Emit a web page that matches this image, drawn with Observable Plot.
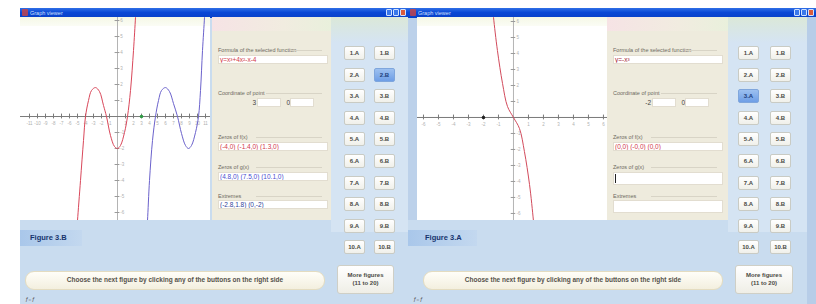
<!DOCTYPE html>
<html><head><meta charset="utf-8">
<script src="https://cdn.jsdelivr.net/npm/d3@7"></script>
<script src="https://cdn.jsdelivr.net/npm/@observablehq/plot@0.6"></script>
<style>
body{margin:0;width:816px;height:304px;overflow:hidden;background:#fff;font-family:"Liberation Sans","DejaVu Sans",sans-serif;position:relative}
.a{position:absolute;box-sizing:border-box}
.title{background:linear-gradient(#2f6fe6,#0a48d6 45%,#0840c8);}
.lbl{font-size:5.5px;color:#6d6a60;white-space:nowrap;line-height:6px}
.fld{background:#fff;border:1px solid #e2ddd0;font-size:6.5px;line-height:7px;white-space:nowrap;padding-left:1px;overflow:hidden}
.btn{background:linear-gradient(#fff,#f0f0ea);border:1px solid #c9cbc4;border-radius:2px;font-size:6px;font-weight:bold;color:#4a4a44;text-align:center;line-height:12px}
.btn.on{background:linear-gradient(#9cc0f0,#6e9ee6);border-color:#7fa6dc;color:#1d3e7a}
.pill{background:linear-gradient(#fffef8,#f3efdf);border:1.5px solid #e4dcc0;border-radius:9px;font-size:6.5px;font-weight:bold;color:#55524a;text-align:center;white-space:nowrap}
.more{background:linear-gradient(#fff,#efeee6);border:1px solid #cfcfc6;border-radius:3px;font-size:6px;font-weight:bold;color:#4a4a44;text-align:center;line-height:8px;padding-top:5px}
</style></head><body>
<script>
// ---------- data ----------
const leftRed = [[-5.1,-7.2],[-5,-6.5],[-4.625,-4],[-4.25,-1.5],[-4,0],[-3.625,1],[-3.25,1.625],[-2.75,1.81],[-2.25,1.56],[-1.75,0.69],[-1.375,0],[-0.875,-1.19],[-0.375,-1.875],[0,-2],[0.375,-1.81],[0.875,-1],[1.25,0],[1.625,1.625],[2,4.125],[2.25,6.19],[2.35,7]];
const leftBlue = [[3.65,-7.2],[3.75,-6.5],[4,-4],[4.375,-1.5],[4.75,0],[5.125,1],[5.5,1.625],[6,1.81],[6.5,1.56],[7,0.81],[7.5,0],[8,-1.06],[8.5,-1.81],[8.875,-2],[9.25,-1.81],[9.75,-1],[10.125,0],[10.375,1.625],[10.625,4.125],[10.875,6.19],[10.95,7]];
const rightRed = [[-1.4,7],[-1.33,6.25],[-1.07,4.19],[-0.73,2.13],[-0.4,0.69],[0,0],[0.4,-0.69],[0.73,-2.13],[1.07,-4.19],[1.33,-6.44],[1.4,-7.2]];
const leftPoint = [[3,0]];
const rightPoint = [[-2,0]];
const xTicksLeft = [-11,-10,-9,-8,-7,-6,-5,-4,-3,-2,-1,1,2,3,4,5,6,7,8,9,10,11];
const xTicksRight = [-6,-5,-4,-3,-2,-1,1,2,3,4,5,6];
const yTicks = [-6,-5,-4,-3,-2,-1,1,2,3,4,5,6];
const rowLabels = ["1","2","3","4","5","6","7","8","9","10"];
const figTitles = ["Figure 3.B","Figure 3.A"];
const winTitles = ["Graph viewer","Graph viewer"];
const activeBtn = ["2.B","3.A"];
const pillText = "Choose the next figure by clicking any of the buttons on the right side";
const moreText = ["More figures","(11 to 20)"];
const formLabels = ["Formula of the selected function","Coordinate of point","Zeros of f(x)","Zeros of g(x)","Extremes"];
const formValuesLeft = ["y=x³+4x²-x-4","(-4,0) (-1.4,0) (1.3,0)","(4.8,0) (7.5,0) (10.1,0)","(-2.8,1.8) (0,-2)"];
const formValuesRight = ["y=-x³","(0,0) (-0,0) (0,0)","",""];
const pointLeft = ["3","0"], pointRight = ["-2","0"];

// ---------- helpers ----------
function el(cls, x, y, w, h, css, txt){
  const d=document.createElement("div"); d.className="a "+(cls||"");
  d.style.left=x+"px"; d.style.top=y+"px"; if(w!=null) d.style.width=w+"px"; if(h!=null) d.style.height=h+"px";
  if(css) d.style.cssText+=css; if(txt!=null) d.innerHTML=txt;
  document.body.appendChild(d); return d;
}
function graph(o){
  return Plot.plot({
    width:o.w, height:o.h, margin:0,
    x:{domain:o.xd, axis:null}, y:{domain:o.yd, axis:null},
    style:{background:"transparent", fontFamily:"Liberation Sans", fontSize:"4.5px", overflow:"hidden"},
    marks:[
      Plot.ruleX([0],{stroke:"#b4b4b4",strokeWidth:1}),
      Plot.ruleY([0],{stroke:"#7a7a7a",strokeWidth:1}),
      Plot.ruleX(o.xt,{x:d=>d, y1:-o.tx, y2:o.tx, stroke:"#7a7a7a"}),
      Plot.ruleY(yTicks,{y:d=>d, x1:-o.ty, x2:o.ty, stroke:"#9a9a9a"}),
      Plot.text(o.xt,{x:d=>d, y:-0.45, text:d=>String(d), fill:"#b0b0b0"}),
      Plot.text(yTicks,{x:o.lx, y:d=>d, text:d=>String(d), fill:"#b0b0b0", textAnchor:"start"}),
      ...o.series.map(s=>Plot.line(s.data,{x:d=>d[0], y:d=>d[1], stroke:s.color, strokeWidth:1, curve:"catmull-rom", clip:true})),
      Plot.dot(o.pt,{x:d=>d[0], y:d=>d[1], r:1.8, fill:o.ptColor, stroke:"none"})
    ]
  });
}

function windowFrame(i, x0, x1, plotX, formX, formW, btnX, btnColA, btnColB, stripL){
  const bw=x1-x0;
  // body background
  el("",x0,17,bw,287,"background:#c9dcef");
  if(stripL) el("",x0,17,plotX-x0,203,"background:#bcd1ea");
  // title bar
  el("title",x0,8,bw,10);
  el("",x0+2,9,6,7,"background:#c44;border-radius:1px;opacity:.8");
  el("",x0+10,9,60,8,"font-size:5.5px;color:#cfe0ff;line-height:8px;white-space:nowrap",winTitles[i]);
  [0,1,2].forEach(k=>el("",x1-22+k*7,9,6,7,"background:"+(k==2?"#d95b3c":"#3a78ea")+";border:1px solid #cfe0ff;border-radius:1px"));
  // plot background
  el("",plotX,17,190,203,"background:#fff");
  el("",plotX,17,190,9,"background:linear-gradient(#f5f8e6,#fbfcf5)");
  // form panel
  el("",formX,17,formW,203,"background:#eeebdd");
  el("",formX,17,formW,14,"background:linear-gradient(90deg,#f6e3e5,#f1ece0 60%,#e9f0dc)");
  // buttons panel
  el("",btnX,17,x1-btnX,215,"background:linear-gradient(#dbe8d8,#d5e4f3 12%)");
}

function form(fx, vals, pt, colors, emptyCursor){
  const L=fx+6, W=110;
  const ly=[47,90,134,164,193], fy=[55,98,142,172,200];
  ly.forEach((y,k)=>{
    el("lbl",L,y,null,null,"",formLabels[k]);
    el("",L+ (k==0?72:k==1?48:38),y+3,W-(k==0?72:k==1?48:38)-6,1,"background:#d8d4c6");
  });
  el("fld",L,fy[0],W,9,"color:"+colors[0],vals[0]);
  el("",L+30,fy[1],8,9,"font-size:6.5px;color:#444;line-height:9px;text-align:right",pt[0]);
  el("fld",L+39,fy[1],24,9,"");
  el("",L+64,fy[1],8,9,"font-size:6.5px;color:#444;line-height:9px;text-align:right",pt[1]);
  el("fld",L+72,fy[1],24,9,"");
  [2,3,4].forEach((k,j)=>{
    const f=el("fld",L,fy[k],W,(emptyCursor&&j>0)?13:9,"color:"+colors[j+1],vals[j+1]);
    if(emptyCursor&&j==1){ el("",L+2,fy[k]+2,1,9,"background:#222"); }
  });
}

function buttons(i, ax, bx){
  rowLabels.forEach((r,k)=>{
    const cy=53+k*21.6;
    ["A","B"].forEach((c,j)=>{
      const lab=r+"."+c;
      el("btn"+(activeBtn[i]==lab?" on":""),j?bx:ax,Math.round(cy-7),21,14,"",lab);
    });
  });
}

function bottom(i, x0, figX, pillX, moreX, moreW){
  el("",x0,230,figX-x0+52,16,"background:linear-gradient(90deg,#a9c7ea,#c3d8ef)");
  el("",figX,233,60,10,"font-size:7.5px;font-weight:bold;color:#17346e;line-height:10px;white-space:nowrap",figTitles[i]);
  el("pill",pillX,271,300,19,"line-height:16px",pillText);
  el("more",moreX,265,moreW,29,"",moreText[0]+"<br>"+moreText[1]);
  el("",x0+5,295,26,8,"font-size:6px;color:#555;line-height:8px;font-style:italic;white-space:nowrap","ƒ₌ƒ");
}

// ---------- windows ----------
windowFrame(0,20,408,20,212,119,331,345,375,false);
windowFrame(1,408,816,417,607,121,728,740,772,true);
el("",807,17,9,287,"background:#b7cde8");

// plots
const p1=graph({w:190,h:203,xd:[-12.125,11.625],yd:[-6.5,6.19],xt:xTicksLeft,tx:0.15,ty:0.3,lx:0.35,
  series:[{data:leftRed,color:"#d9475a"},{data:leftBlue,color:"#6b62cc"}],pt:leftPoint,ptColor:"#2f9a45"});
const g1=el("",20,17,190,203); g1.appendChild(p1);
const p2=graph({w:190,h:203,xd:[-6.4,6.27],yd:[-6.44,6.25],xt:xTicksRight,tx:0.15,ty:0.15,lx:0.2,
  series:[{data:rightRed,color:"#d24b5c"}],pt:rightPoint,ptColor:"#222"});
const g2=el("",417,17,190,203); g2.appendChild(p2);

form(212,formValuesLeft,pointLeft,["#d23a4a","#d23a4a","#4a4ed0","#2e3f9a"],false);
form(607,formValuesRight,pointRight,["#a8283a","#d23a4a","#333","#333"],true);

buttons(0,344,374);
buttons(1,738,770);

bottom(0,20,30,25,337,57);
bottom(1,408,425,423,735,58);
</script>
</body></html>
